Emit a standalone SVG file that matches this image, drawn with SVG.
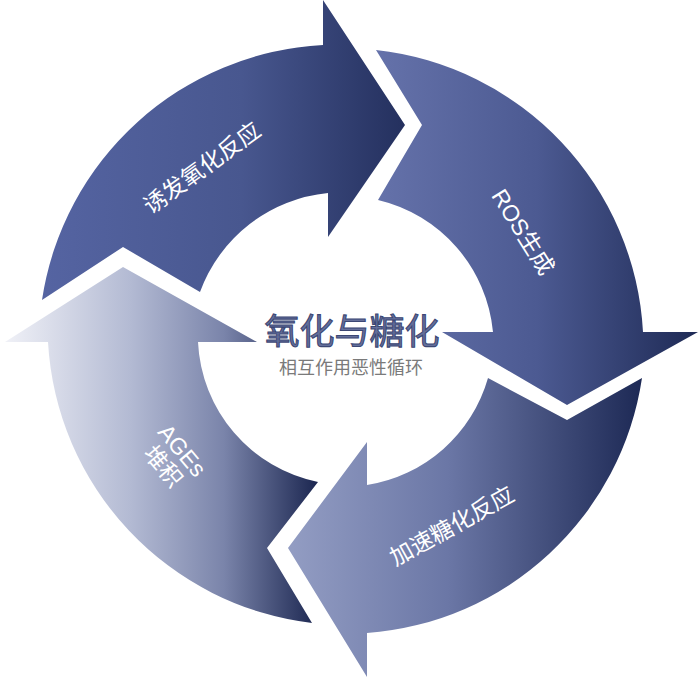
<svg xmlns="http://www.w3.org/2000/svg" width="700" height="680" viewBox="0 0 700 680">
<defs>
<linearGradient id="g1" x1="0" y1="0" x2="1" y2="0"><stop offset="0" stop-color="#5564a2"/><stop offset="0.55" stop-color="#48578f"/><stop offset="1" stop-color="#24305e"/></linearGradient>
<linearGradient id="g2" x1="0" y1="0" x2="1" y2="0"><stop offset="0" stop-color="#6572aa"/><stop offset="0.5" stop-color="#4c5a92"/><stop offset="1" stop-color="#1e2a55"/></linearGradient>
<linearGradient id="g3" x1="0" y1="0" x2="1" y2="0"><stop offset="0" stop-color="#939dc3"/><stop offset="0.45" stop-color="#6b77a6"/><stop offset="1" stop-color="#1d2955"/></linearGradient>
<linearGradient id="g4" x1="0" y1="0" x2="1" y2="0"><stop offset="0" stop-color="#f0f1f7"/><stop offset="0.4" stop-color="#b3bad3"/><stop offset="0.7" stop-color="#7a84aa"/><stop offset="1" stop-color="#1b2650"/></linearGradient>
</defs>
<style>
.lbl{font-family:"Liberation Sans","Noto Sans CJK SC",sans-serif;font-size:23px;fill:#ffffff;text-anchor:middle;dominant-baseline:central}
.title{font-family:"Noto Sans CJK SC",sans-serif;font-size:35px;font-weight:400;fill:#65709b;stroke:#3c4774;stroke-width:1.1;text-anchor:middle}
.sub{font-family:"Noto Sans CJK SC",sans-serif;font-size:18px;fill:#7a7a7a;text-anchor:middle}
</style>
<g id="connectors">
<g id="arrow-oxidation">
<path d="M 42,300 A 300 300 0 0 1 323,45 L 323,0 L 405,125 L 328,237 L 328,193 A 152 152 0 0 0 200,292 L 123,247 Z" fill="url(#g1)"/>
<text class="lbl" transform="translate(202,168) rotate(-36)">诱发氧化反应</text>
</g>
<g id="arrow-ros">
<path d="M 376,50 A 300 300 0 0 1 643,332 L 698,332 L 567,405 L 442,332 L 493,332 A 150 150 0 0 0 378,200 L 422,125 Z" fill="url(#g2)"/>
<text class="lbl" transform="translate(523,232) rotate(58)">ROS生成</text>
</g>
<g id="arrow-glycation">
<path d="M 642,378 A 300 300 0 0 1 367,633 L 367,677 L 288,548 L 367,442 L 367,485 A 150 150 0 0 0 488,378 L 567,420 Z" fill="url(#g3)"/>
<text class="lbl" transform="translate(452,526) rotate(-29)">加速糖化反应</text>
</g>
<g id="arrow-ages">
<path d="M 312,623 A 300 300 0 0 1 48,342 L 5,342 L 123,267 L 257,342 L 198,342 A 150 150 0 0 0 318,482 L 267,548 Z" fill="url(#g4)"/>
<g transform="translate(173,458) rotate(50)">
<text class="lbl" x="0" y="-12">AGEs</text>
<text class="lbl" x="0" y="13">堆积</text>
</g>
</g>
</g>
<g id="center">
<text class="title" x="352" y="344">氧化与糖化</text>
<text class="sub" x="351" y="374">相互作用恶性循环</text>
</g>
</svg>
